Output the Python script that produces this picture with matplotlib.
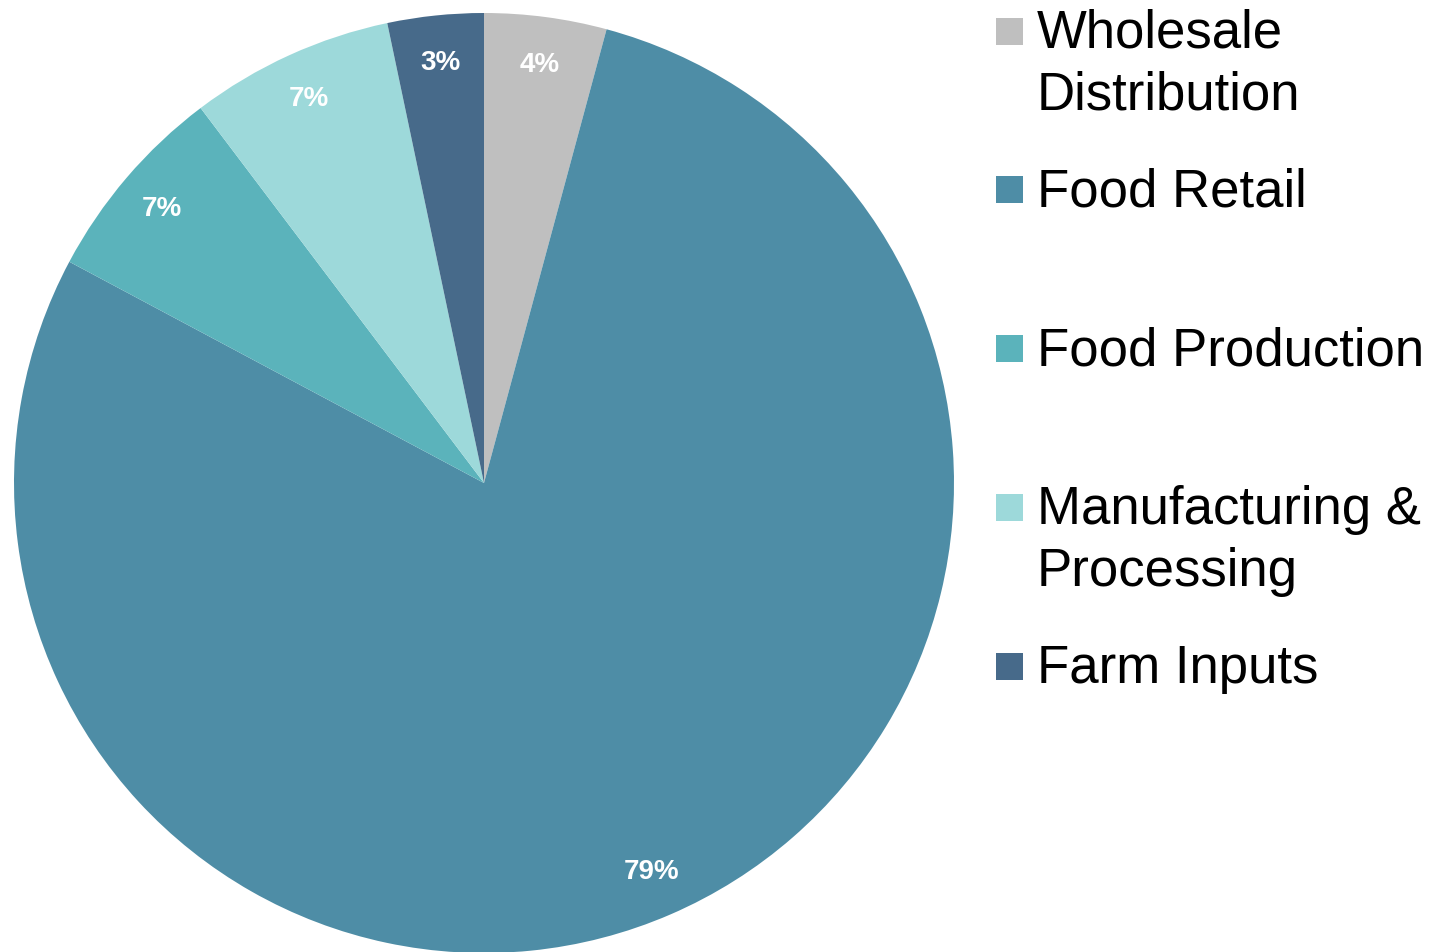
import matplotlib
matplotlib.use("Agg")
import matplotlib.pyplot as plt
from matplotlib.patches import Rectangle

# shares of each segment (percent), clockwise from 12 o'clock
segments = ["Wholesale\nDistribution", "Food Retail", "Food Production",
            "Manufacturing &\nProcessing", "Farm Inputs"]
shares = [4.2, 78.6, 6.9, 7.0, 3.3]
colors = ["#BFBFBF", "#4E8DA6", "#5BB3BB", "#9DD9DA", "#476A8A"]

plt.rcParams["font.family"] = ["Liberation Sans", "DejaVu Sans"]

W, H = 1431, 953
fig = plt.figure(figsize=(W / 100, H / 100), dpi=100)

# pie box in pixels: left 14, top 14, size 940
ax = fig.add_axes([14 / W, (H - 14 - 940) / H, 940 / W, 940 / H])
wedges, _, autotexts = ax.pie(
    shares, colors=colors, startangle=90, counterclock=False,
    autopct="%.0f%%", pctdistance=0.9, radius=1.0,
    wedgeprops=dict(linewidth=0),
    textprops=dict(color="white", fontsize=20, fontweight="bold"))
ax.set_xlim(-1, 1)
ax.set_ylim(-1, 1)
ax.set_aspect("equal")
ax.axis("off")

# legend drawn by hand so the entries keep Excel's even spacing
sq = 27
line_h = 62
for i, (lab, col) in enumerate(zip(segments, colors)):
    yc = 32 + 158.75 * i
    fig.add_artist(Rectangle((996 / W, (H - yc - sq / 2) / H), sq / W, sq / H,
                             transform=fig.transFigure, facecolor=col,
                             edgecolor="none"))
    for j, line in enumerate(lab.split("\n")):
        fig.text(1037 / W, (H - yc - 16 - j * line_h) / H, line, fontsize=38,
                 color="black", va="baseline", ha="left")

fig.savefig("out.png", dpi=100)
